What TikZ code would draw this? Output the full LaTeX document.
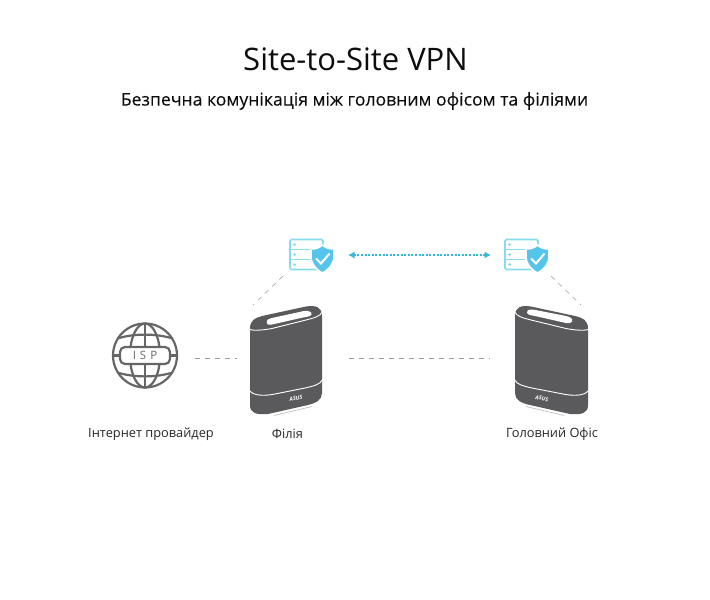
\documentclass[tikz,border=0pt]{standalone}
\usepackage{fontspec}
\setmainfont{Open Sans}
\usetikzlibrary{arrows.meta}
\definecolor{body}{HTML}{5A5A5C}
\definecolor{glob}{HTML}{666666}
\definecolor{cy}{HTML}{86DCEC}
\definecolor{sh}{HTML}{55C5EC}
\definecolor{vp}{HTML}{35B8DC}
\tikzset{
 x=1pt,y=-1pt,
 lbl/.style={font=\fontsize{12.8}{14}\selectfont,text=black!85,inner sep=0pt},
 link/.style={draw=black!38,line width=.6pt,dash pattern=on 5pt off 5pt},
 vpn/.style={draw=vp,line width=1.3pt,dash pattern=on 2pt off 1.6pt,{Latex[length=6.5pt,width=7pt]}-{Latex[length=6.5pt,width=7pt]}},
 anchorbox/.style={inner sep=0pt,minimum width=#1,minimum height=#1},
 srv/.style={draw=cy,line width=1.7pt,rounded corners=1.5pt},
 pics/secure/.style={code={
   \draw[srv,fill=white] (0,0) rectangle (33,30);
   \draw[cy,line width=1.7pt] (0,10) -- (33,10) (0,20) -- (33,20);
   \foreach \yy in {5,15,25}{\fill[cy] (4.5,\yy) circle (1.5);}
   \draw[white,line width=1.6pt,fill=sh] (21,9.5) .. controls (26,9.5) and (30,8) .. (32.5,5.5) .. controls (35,8) and (39,9.5) .. (44,9.5)
     -- (44,17) .. controls (44,25) and (38,31) .. (32.5,33.5) .. controls (27,31) and (21,25) .. (21,17) -- cycle;
   \draw[white,line width=2pt] (26,19) -- (31,24) -- (39.5,14);
 }}
}
\newcommand{\routerL}{%
 \fill[body] (250,329) .. controls (250,320) and (255,318) .. (262,316) -- (306,306.5)
   .. controls (316,305) and (322,307) .. (322,316) -- (322,393) .. controls (322,400) and (316,403) .. (308,405)
   -- (268,414) .. controls (256,415) and (250,413) .. (250,405) -- cycle;
 \draw[white,line width=.9pt] (250,329.5) .. controls (254,331) and (264,330) .. (272,328.5) -- (306,320) .. controls (314,318) and (321,316) .. (322,312);
 \fill[white] (267,323.5) .. controls (266,320) and (268,319) .. (272,318) -- (304,311) .. controls (309,310.5) and (312,312) .. (311.5,314.5) .. controls (310.5,316.5) and (306,317) .. (303,317.5) -- (272,324.5) .. controls (269,325) and (267.5,325) .. (267,323.5) -- cycle;
 \draw[white,line width=.9pt] (250,391) .. controls (254,396) and (265,396) .. (275,394) -- (305,388) .. controls (314,386) and (321,384) .. (322,380);
 \draw[black!25,line width=.7pt] (274,415.5) -- (312,406.5);
 \node[font=\fontsize{5.5}{6}\selectfont\bfseries\itshape,text=white,inner sep=0pt,rotate=10] (logoL) at (296,398.5) {ASUS};
}
\newcommand{\routerR}{%
 \fill[body] (515,316) .. controls (515,307) and (521,305) .. (531,306.5) -- (575,316)
   .. controls (583,318) and (588,320) .. (588,329) -- (588,405) .. controls (588,413) and (582,415) .. (570,414)
   -- (530,405) .. controls (521,403) and (515,400) .. (515,393) -- cycle;
 \draw[white,line width=.9pt] (515,312) .. controls (516,316) and (523,318) .. (531,320) -- (566,328.5) .. controls (574,330) and (584,331) .. (588,329.5);
 \fill[white] (527,313) .. controls (526,311) and (528,309) .. (533,309.5) -- (566,316) .. controls (570,317) and (573,318) .. (572,321.5) .. controls (571,323.5) and (569,323.5) .. (566,323) -- (535,316) .. controls (532,315.5) and (528,315) .. (527,313) -- cycle;
 \draw[white,line width=.9pt] (515,380) .. controls (516,384) and (523,386) .. (532,388) -- (563,394) .. controls (573,396) and (584,396) .. (588,391);
 \draw[black!25,line width=.7pt] (526,406.5) -- (564,415.5);
 \node[font=\fontsize{5.5}{6}\selectfont\bfseries\itshape,text=white,inner sep=0pt,rotate=-10] (logoR) at (542,398.5) {ASUS};
}
\begin{document}
\begin{tikzpicture}
\useasboundingbox (0,0) rectangle (710,600);
\node[font=\fontsize{31}{36}\selectfont,text=black!95,inner sep=0pt] (title) at (355.5,59) {Site-to-Site VPN};
\node[font=\fontsize{17.6}{20}\selectfont\addfontfeature{FakeBold=0.15},text=black!95,inner sep=0pt] (sub) at (354.5,101) {Безпечна комунікація між головним офісом та філіями};

% ISP globe
\node[anchorbox=64pt] (isp) at (145,355.5) {};
\begin{scope}[line width=2.2pt]
 \draw[glob] (145,355.5) circle (32);
 \draw[glob] (145,355.5) ellipse (15 and 32);
 \draw[glob] (145,323.5) -- (145,387.5);
 \draw[glob] (113,355.5) -- (177,355.5);
 \draw[glob] (119,338) .. controls (135,333.5) and (155,333.5) .. (171,338);
 \draw[glob] (119,373) .. controls (135,377.5) and (155,377.5) .. (171,373);
 \draw[glob,fill=white,rounded corners=5pt] (120,347) rectangle (170,364);
\end{scope}
\node[font=\fontsize{11.5}{12}\selectfont,text=glob,inner sep=0pt] (isptxt) at (145,355.5) {I\hspace{4pt}S\hspace{4pt}P};

\routerL
\routerR
\node[anchorbox=72pt] (rl) at (286,360) {};
\node[anchorbox=72pt] (rr) at (551.5,360) {};

\pic at (290,239.5) {secure};
\pic at (505,239.5) {secure};
\node[anchorbox=40pt] (il) at (311,256) {};
\node[anchorbox=40pt] (ir) at (526,256) {};

\coordinate (a1) at (195,358);
\coordinate (a2) at (237,358);
\coordinate (b1) at (349,358);
\coordinate (b2) at (490,358);
\coordinate (c1) at (283,276);
\coordinate (c2) at (253,305);
\coordinate (d1) at (551,276);
\coordinate (d2) at (581,305);
\coordinate (e1) at (348,255);
\coordinate (e2) at (491,255);
\draw[link] (a1) -- (a2);
\draw[link] (b1) -- (b2);
\draw[link] (c1) -- (c2);
\draw[link] (d1) -- (d2);
\draw[vpn] (e1) -- (e2);

\node[lbl] (l1) at (151,434) {Інтернет провайдер};
\node[lbl] (l2) at (287.5,434) {Філія};
\node[lbl] (l3) at (552,434) {Головний Офіс};
\end{tikzpicture}
\end{document}
